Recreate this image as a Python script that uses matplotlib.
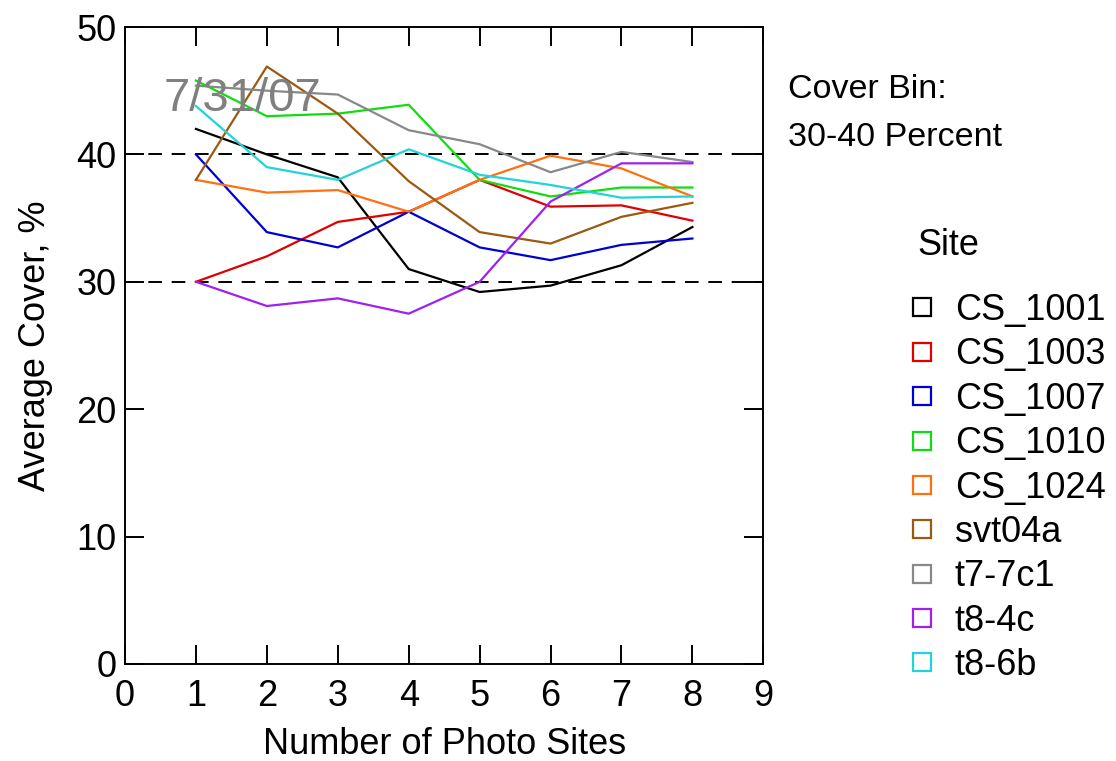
import matplotlib
matplotlib.use("Agg")
import matplotlib.pyplot as plt
from matplotlib.lines import Line2D

plt.rcParams['font.family'] = ['Liberation Sans', 'DejaVu Sans']

# data
photo_sites = [1, 2, 3, 4, 5, 6, 7, 8]
sites = ['CS_1001', 'CS_1003', 'CS_1007', 'CS_1010', 'CS_1024',
         'svt04a', 't7-7c1', 't8-4c', 't8-6b']
cs_1001 = [42.0, 40.0, 38.2, 31.0, 29.2, 29.7, 31.3, 34.3]
cs_1003 = [30.0, 32.0, 34.7, 35.5, 38.0, 35.9, 36.0, 34.8]
cs_1007 = [40.0, 33.9, 32.7, 35.5, 32.7, 31.7, 32.9, 33.4]
cs_1010 = [45.8, 43.0, 43.2, 43.9, 38.0, 36.7, 37.4, 37.4]
cs_1024 = [38.0, 37.0, 37.2, 35.5, 38.0, 39.9, 38.9, 36.7]
svt04a = [38.0, 46.9, 43.2, 37.9, 33.9, 33.0, 35.1, 36.2]
t7_7c1 = [45.4, 45.0, 44.7, 41.9, 40.8, 38.6, 40.2, 39.4]
t8_4c = [30.0, 28.1, 28.7, 27.5, 30.0, 36.3, 39.3, 39.3]
t8_6b = [43.8, 39.0, 38.0, 40.4, 38.4, 37.6, 36.6, 36.7]
series = [cs_1001, cs_1003, cs_1007, cs_1010, cs_1024, svt04a, t7_7c1, t8_4c, t8_6b]
colors = ['#000000', '#e00000', '#0000d0', '#10dd10', '#ff7010',
          '#9a5a10', '#888888', '#a020f0', '#20d4d8']
bin_lines = [30, 40]

fig = plt.figure(figsize=(11.16, 7.61), dpi=100)
ax = fig.add_axes([0.112, 0.1275, 0.572, 0.837])

for vals, c in zip(series, colors):
    ax.plot(photo_sites, vals, color=c, lw=1.6)

for b in bin_lines:
    ax.axhline(b, color='black', lw=1.4, dashes=(7, 5), zorder=0)

ax.text(0.55, 43.4, '7/31/07', fontsize=34, color='#808080')

ax.set_xlim(0, 9)
ax.set_ylim(0, 50)
ax.set_xticks(range(0, 10))
ax.set_yticks(range(0, 51, 10))
ax.tick_params(direction='in', length=14, width=1.4, labelsize=26,
               top=True, right=True, pad=6)
ax.tick_params(axis='x', pad=11)
for s in ax.spines.values():
    s.set_linewidth(1.4)
ax.set_xlabel('Number of Photo Sites', fontsize=26, labelpad=9)
ax.set_ylabel('Average Cover, %', fontsize=26, labelpad=17)

fig.text(0.706, 0.882, 'Cover Bin:', fontsize=24.5, va='center')
fig.text(0.706, 0.819, '30-40 Percent', fontsize=24.5, va='center')

# legend
fig.text(0.822, 0.678, 'Site', fontsize=26, va='center')
handles = [Line2D([], [], ls='none', marker='s', markersize=13, markerfacecolor='none',
                  markeredgecolor=c, markeredgewidth=1.6) for c in colors]
leg = fig.legend(handles, sites, loc='upper left', bbox_to_anchor=(0.81, 0.615),
                 frameon=False, fontsize=26, borderpad=0, borderaxespad=0,
                 labelspacing=0.26, handletextpad=0.41, handlelength=1.0)

fig.savefig('out.png', dpi=100)
